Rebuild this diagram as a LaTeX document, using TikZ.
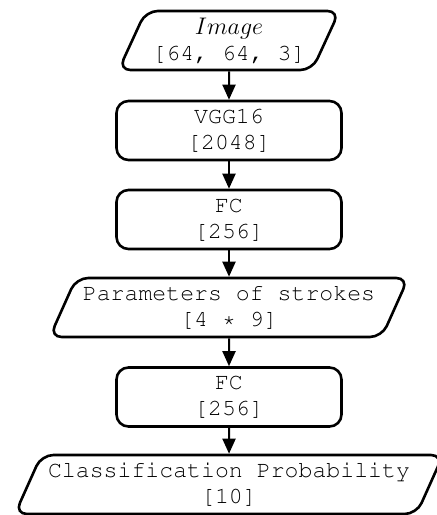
\documentclass[tikz,border=0pt]{standalone}
\usepackage[T1,TU]{fontenc}
\usetikzlibrary{positioning,shapes.geometric,arrows.meta}

\tikzset{
  layer/.style={draw, line width=1.3pt, rounded corners=6pt,
    minimum width=112.5pt, minimum height=29.5pt, align=center,
    font=\fontencoding{T1}\fontfamily{pcr}\fontsize{11.6}{13}\selectfont},
  data/.style={layer, trapezium, trapezium left angle=65,
    trapezium right angle=115, trapezium stretches=true,
    minimum width=0pt},
  flow/.style={-{Triangle[length=7.5pt,width=6.5pt]}, line width=1pt},
}

\begin{document}
\begin{tikzpicture}[x=0.5pt, y=-0.5pt]
\useasboundingbox (0,0) rectangle (437,515);

\def\xm{229}
\def\ya{40.5}
\def\yb{130.5}
\def\yc{219.5}
\def\yd{307.5}
\def\ye{397}
\def\yf{484.5}

\node[data] (img) at (\xm, \ya) {$Image$\\{}[64, 64, 3]};
\node[layer] (vgg) at (\xm, \yb) {VGG16\\{}[2048]};
\node[layer] (fca) at (\xm, \yc) {FC\\{}[256]};
\node[data] (strk) at (\xm, \yd) {Parameters of strokes\\{}[4 * 9]};
\node[layer] (fcb) at (\xm, \ye) {FC\\{}[256]};
\node[data] (prob) at (\xm, \yf) {Classification Probability\\{}[10]};

\draw[flow] (img) -- (vgg);
\draw[flow] (vgg) -- (fca);
\draw[flow] (fca) -- (strk);
\draw[flow] (strk) -- (fcb);
\draw[flow] (fcb) -- (prob);
\end{tikzpicture}
\end{document}
